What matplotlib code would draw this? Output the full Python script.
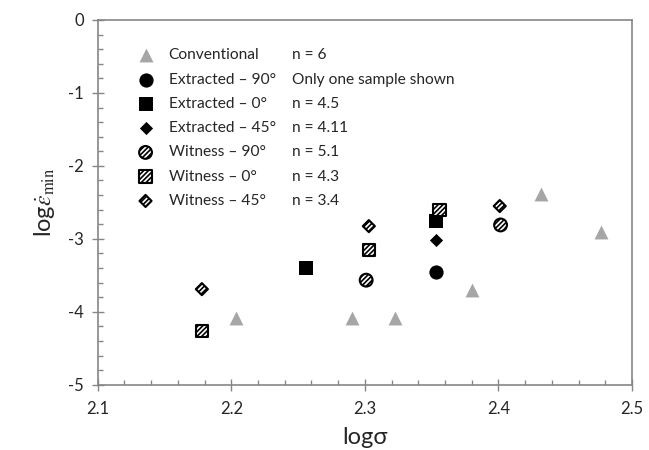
import matplotlib
matplotlib.use("Agg")
import matplotlib.pyplot as plt
from matplotlib.lines import Line2D
from matplotlib.ticker import MultipleLocator

plt.rcParams['font.family'] = ['Lato', 'DejaVu Sans']
plt.rcParams['mathtext.fontset'] = 'stix'
plt.rcParams['hatch.linewidth'] = 1.2
plt.rcParams['axes.unicode_minus'] = False

# --- datos ---
conv_x = [2.2035, 2.2905, 2.3225, 2.380, 2.432, 2.477]
conv_y = [-4.09, -4.09, -4.09, -3.70, -2.38, -2.91]

ext90_x = [2.353]
ext90_y = [-3.45]

ext0_x = [2.256, 2.3535]
ext0_y = [-3.40, -2.75]

ext45_x = [2.3535]
ext45_y = [-3.01]

wit90_x = [2.301, 2.4016]
wit90_y = [-3.567, -2.81]

wit0_x = [2.178, 2.303, 2.356]
wit0_y = [-4.26, -3.155, -2.606]

wit45_x = [2.178, 2.303, 2.401]
wit45_y = [-3.69, -2.826, -2.551]

etiquetas = ["Conventional", "Extracted \u2013 90\u00b0", "Extracted \u2013 0\u00b0",
             "Extracted \u2013 45\u00b0", "Witness \u2013 90\u00b0", "Witness \u2013 0\u00b0",
             "Witness \u2013 45\u00b0"]
valores_n = ["n = 6", "Only one sample shown", "n = 4.5", "n = 4.11",
             "n = 5.1", "n = 4.3", "n = 3.4"]

GRIS = '#868686'
TEXTO = '#262626'

fig = plt.figure(figsize=(6.49, 4.5), dpi=100)
ax = fig.add_axes([0.1505, 0.1451, 0.8233, 0.8105])

h = []
h.append(ax.scatter(conv_x, conv_y, marker='^', s=100, color='#a6a6a6', linewidths=0, zorder=3))
h.append(ax.scatter(ext90_x, ext90_y, marker='o', s=105, color='black', linewidths=0, zorder=3))
h.append(ax.scatter(ext0_x, ext0_y, marker='s', s=92, color='black', linewidths=0, zorder=3))
h.append(ax.scatter(ext45_x, ext45_y, marker='D', s=45, color='black', linewidths=0, zorder=3))
h.append(ax.scatter(wit90_x, wit90_y, marker='o', s=85, facecolor='white', edgecolor='black',
                    linewidths=1.5, hatch='///////', zorder=3))
h.append(ax.scatter(wit0_x, wit0_y, marker='s', s=80, facecolor='white', edgecolor='black',
                    linewidths=1.5, hatch='///////', zorder=3))
h.append(ax.scatter(wit45_x, wit45_y, marker='D', s=38, facecolor='white', edgecolor='black',
                    linewidths=1.5, hatch='///////', zorder=3))

ax.set_xlim(2.1, 2.5)
ax.set_ylim(-5, 0)
ax.xaxis.set_major_locator(MultipleLocator(0.1))
ax.xaxis.set_minor_locator(MultipleLocator(0.02))
ax.yaxis.set_major_locator(MultipleLocator(1))
ax.yaxis.set_minor_locator(MultipleLocator(0.2))
ax.set_xticklabels([f"{v:g}" for v in ax.get_xticks()])
ax.tick_params(which='major', direction='inout', length=8, width=1, color=GRIS,
               labelsize=12, labelcolor=TEXTO)
ax.tick_params(axis='x', which='major', pad=8)
ax.tick_params(axis='y', which='major', pad=6)
ax.tick_params(which='minor', direction='in', length=3.5, width=1, color=GRIS)
for s in ax.spines.values():
    s.set_color(GRIS)
    s.set_linewidth(1.2)

ax.set_xlabel("log\u03c3", fontsize=17, color=TEXTO, labelpad=7)
ax.set_ylabel(r"log$\dot{\varepsilon}_{\mathrm{min}}$", fontsize=17, color=TEXTO, labelpad=8)

# leyenda: simbolos + nombre
leg1 = ax.legend(h, etiquetas, loc='upper left', bbox_to_anchor=(0.075, 0.922),
                 frameon=False, fontsize=11.2, labelspacing=0.66, handlelength=1.0,
                 handletextpad=0.98, borderpad=0, borderaxespad=0, scatterpoints=1,
                 labelcolor=TEXTO)
ax.add_artist(leg1)
# segunda columna: valores de n
vacios = [Line2D([], [], linestyle='none', marker=None) for _ in valores_n]
ax.legend(vacios, valores_n, loc='upper left', bbox_to_anchor=(0.3642, 0.922),
          frameon=False, fontsize=11.2, labelspacing=0.66, handlelength=0,
          handletextpad=0, borderpad=0, borderaxespad=0, labelcolor=TEXTO)

fig.savefig("out.png", dpi=100)
